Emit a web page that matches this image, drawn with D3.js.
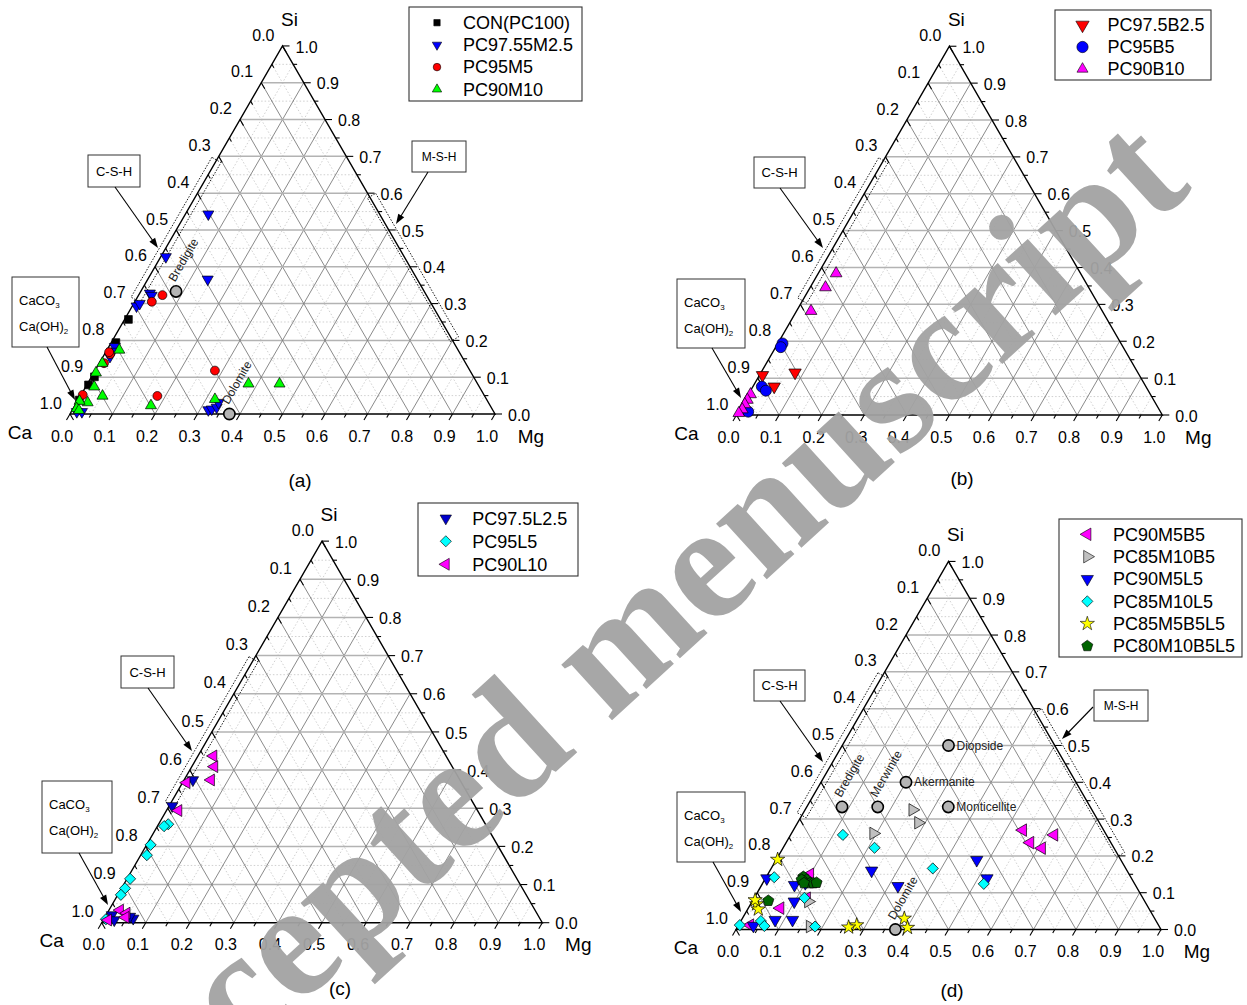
<!DOCTYPE html>
<html>
<head>
<meta charset="utf-8">
<script src="https://cdn.jsdelivr.net/npm/d3@7"></script>
<style>
  body { margin: 0; background: #fff; }
  text { font-family: Arial, "Liberation Sans", sans-serif; }
  text.watermark { font-family: "Liberation Serif", "Times New Roman", serif; font-weight: bold; }
</style>
</head>
<body>
<svg id="fig" width="1247" height="1005"></svg>
<script>
// Ternary compositions, each point given as [Si, Mg] atomic fractions (Ca = 1 - Si - Mg).

// (a) MgO series
const conPC100 = [[0.257,0.009],[0.194,0.011],[0.101,0.007],[0.079,0.004],[0.038,0.003]];
const pc9755M25 = [[0.543,0.054],[0.427,0.012],[0.366,0.141],[0.328,0.024],[0.322,0.031],[0.293,0.010],[0.300,0.014],
                   [0.183,0.014],[0.156,0.016],[0.170,0.014],[0.011,0.320],[0.013,0.327],[0.018,0.336],[0.031,0.334],
                   [0.006,0.013],[0.006,0.025]];
const pc95M5 = [[0.323,0.056],[0.305,0.040],[0.163,0.013],[0.138,0.011],[0.118,0.282],[0.049,0.181],[0.052,0.004],[0.168,0.008]];
const pc90M10 = [[0.174,0.029],[0.138,0.007],[0.112,0.005],[0.074,0.020],[0.049,0.052],[0.031,0.026],[0.023,0.179],
                 [0.040,0.321],[0.082,0.379],[0.082,0.452],[0.035,0.005],[0.015,0.008],[0.010,0.016]];

// (b) series B
const pc975B25 = [[0.115,0.080],[0.077,0.050],[0.108,0.007]];
const pc95B5 = [[0.194,0.011],[0.184,0.012],[0.077,0.021],[0.066,0.036],[0.009,0.023]];
const pc90B10 = [[0.384,0.042],[0.346,0.036],[0.282,0.034],[0.056,0.005],[0.041,0.005],[0.029,0.005],[0.015,0.006],[0.005,0.003]];

// (c) series L
const pc975L25 = [[0.374,0.020],[0.306,0.007],[0.020,0.013],[0.011,0.066],[0.016,0.056],[0.007,0.025]];
const pc95L5 = [[0.258,0.022],[0.253,0.015],[0.204,0.009],[0.177,0.014],[0.115,0.007],[0.090,0.008],[0.073,0.007],[0.009,0.005]];
const pc90L10 = [[0.437,0.035],[0.409,0.051],[0.374,0.061],[0.367,0.009],[0.294,0.027],[0.033,0.025],[0.025,0.044],[0.014,0.047],[0.007,0.011]];

// (d) combined series
const pc90M5B5 = [[0.270,0.540],[0.257,0.620],[0.236,0.574],[0.221,0.609],[0.150,0.099],[0.058,0.075],[0.085,0.124],[0.012,0.027]];
const pc85M10B5 = [[0.325,0.253],[0.290,0.284],[0.261,0.193],[0.076,0.132],[0.008,0.170]];
const pc90M5L5 = [[0.189,0.472],[0.139,0.521],[0.160,0.239],[0.118,0.322],[0.121,0.077],[0.126,0.100],[0.076,0.099],
                  [0.026,0.079],[0.026,0.120],[0.139,0.003],[0.010,0.036]];
const pc85M10L5 = [[0.257,0.123],[0.222,0.215],[0.166,0.380],[0.124,0.521],[0.142,0.019],[0.086,0.118],[0.023,0.047],
                   [0.0095,0.062],[0.008,0.182],[0.012,0.003]];
const pc85M5B5L5 = [[0.069,0.014],[0.055,0.025],[0.080,0.005],[0.012,0.278],[0.006,0.262],[0.030,0.381],[0.005,0.401],[0.190,0.003]];
const pc80M10B5L5 = [[0.078,0.037],[0.143,0.087],[0.135,0.099],[0.126,0.111],[0.126,0.119],[0.127,0.126],[0.135,0.087],[0.126,0.097]];

// Reference mineral phases [Si, Mg]
const phaseNamesA = ["Bredigite", "Dolomite"];
const phasesA = [[0.333,0.083],[0.0,0.375]];
const phaseNamesD = ["Diopside", "Akermanite", "Monticellite", "Merwinite", "Bredigite", "Dolomite"];
const phasesD = [[0.5,0.25],[0.4,0.2],[0.333,0.333],[0.333,0.167],[0.333,0.083],[0.0,0.375]];

// Axis ticks and labels
const majorTicks = [0,0.1,0.2,0.3,0.4,0.5,0.6,0.7,0.8,0.9,1.0];
const tickLabels = ["0.0","0.1","0.2","0.3","0.4","0.5","0.6","0.7","0.8","0.9","1.0"];
const minorTicks = [0.05,0.15,0.25,0.35,0.45,0.55,0.65,0.75,0.85,0.95];
const gridLevels = [0.1,0.2,0.3,0.4,0.5,0.6,0.7,0.8,0.9];

// ---------------------------------------------------------------------------
const svg = d3.select("#fig");

const symbolPentagon = {
  draw(ctx, size) {
    const r = Math.sqrt(size / 2.378);
    for (let i = 0; i < 5; i++) {
      const a = -Math.PI / 2 + i * 2 * Math.PI / 5;
      const x = r * Math.cos(a), y = r * Math.sin(a);
      if (i === 0) ctx.moveTo(x, y); else ctx.lineTo(x, y);
    }
    ctx.closePath();
  }
};

const markerTypes = {
  square:   { type: d3.symbolSquare, rot: 0, k: 1.0 },
  triUp:    { type: d3.symbolTriangle, rot: 0, k: 0.85 },
  triDown:  { type: d3.symbolTriangle, rot: 180, k: 0.85 },
  triLeft:  { type: d3.symbolTriangle, rot: -90, k: 0.85 },
  triRight: { type: d3.symbolTriangle, rot: 90, k: 0.85 },
  circle:   { type: d3.symbolCircle, rot: 0, k: 1.0 },
  diamond:  { type: d3.symbolSquare, rot: 45, k: 0.62 },
  star:     { type: d3.symbolStar, rot: 0, k: 0.9 },
  pentagon: { type: symbolPentagon, rot: 0, k: 0.95 }
};

function marker(g, shape, size, fill, x, y, sw) {
  const m = markerTypes[shape];
  g.append("path")
    .attr("d", d3.symbol().type(m.type).size(size * m.k)())
    .attr("transform", `translate(${x},${y}) rotate(${m.rot})`)
    .attr("fill", fill)
    .attr("stroke", "#000")
    .attr("stroke-width", sw === undefined ? 0.7 : sw);
}

function makePanel(geo) {
  const H = geo.W * Math.sqrt(3) / 2;
  const sx = d3.scaleLinear().domain([0, 1]).range([geo.x0, geo.x0 + geo.W]);
  const sy = d3.scaleLinear().domain([0, 1]).range([geo.yb, geo.yb - H]);
  // point from [Si, Mg]
  const P = (si, mg) => [sx(mg + si / 2), sy(si)];
  const g = svg.append("g");
  const line = (a, b) => d3.line()([a, b]);

  // minor grid
  const gMinor = g.append("g").attr("fill", "none").attr("stroke", "#c4c4c4")
    .attr("stroke-width", 0.8).attr("stroke-dasharray", "1.5,2");
  minorTicks.forEach(v => {
    gMinor.append("path").attr("d", line(P(v, 0), P(v, 1 - v)));
    gMinor.append("path").attr("d", line(P(0, v), P(1 - v, v)));
    gMinor.append("path").attr("d", line(P(1 - v, 0), P(0, 1 - v)));
  });
  // major grid
  const gMajor = g.append("g").attr("fill", "none");
  gridLevels.forEach(v => {
    gMajor.append("path").attr("d", line(P(v, 0), P(v, 1 - v))).attr("stroke", "#b3b3b3").attr("stroke-width", 1.5);
    gMajor.append("path").attr("d", line(P(0, v), P(1 - v, v))).attr("stroke", "#7d7d7d").attr("stroke-width", 0.9);
    gMajor.append("path").attr("d", line(P(1 - v, 0), P(0, 1 - v))).attr("stroke", "#7d7d7d").attr("stroke-width", 0.9);
  });
  // frame
  g.append("path").attr("d", d3.line()([P(0, 0), P(0, 1), P(1, 0)]) + "Z")
    .attr("fill", "none").attr("stroke", "#000").attr("stroke-width", 1.4);

  // ticks
  const gT = g.append("g").attr("stroke", "#000").attr("stroke-width", 1.1);
  const tick = (p, dx, dy, len) => gT.append("path").attr("d", line(p, [p[0] + dx * len, p[1] + dy * len]));
  const c60 = 0.5, s60 = Math.sqrt(3) / 2;
  const ticksAll = [...majorTicks.map(v => [v, 7]), ...minorTicks.map(v => [v, 4])];
  ticksAll.forEach(([v, len]) => {
    tick(P(0, v), -c60, s60, len);        // bottom: Mg fraction
    tick(P(v, 1 - v), 1, 0, len);          // right: Si fraction
    tick(P(1 - v, 0), c60, s60, len);      // left: Ca fraction
  });

  // tick labels
  const gL = g.append("g").attr("font-size", 16).attr("fill", "#000");
  majorTicks.forEach((v, i) => {
    const b = P(0, v);
    gL.append("text").attr("x", b[0] - 8).attr("y", b[1] + 22).attr("text-anchor", "middle")
      .attr("dy", "0.35em").text(tickLabels[i]);
    const r = P(v, 1 - v);
    gL.append("text").attr("x", r[0] + 13).attr("y", r[1] + 1).attr("dy", "0.35em").text(tickLabels[i]);
    const l = P(1 - v, 0);
    gL.append("text").attr("x", l[0] - 8).attr("y", l[1] - 11).attr("text-anchor", "end")
      .attr("dy", "0.35em").text(tickLabels[i]);
  });
  // corner titles
  const gC = g.append("g").attr("font-size", 19);
  const apex = P(1, 0), ca = P(0, 0), mgc = P(0, 1);
  gC.append("text").attr("x", apex[0] + 7).attr("y", apex[1] - 27).attr("text-anchor", "middle").attr("dy", "0.35em").text("Si");
  gC.append("text").attr("x", ca[0] - 50).attr("y", ca[1] + 18).attr("text-anchor", "middle").attr("dy", "0.35em").text("Ca");
  gC.append("text").attr("x", mgc[0] + 36).attr("y", mgc[1] + 22).attr("text-anchor", "middle").attr("dy", "0.35em").text("Mg");

  return { g, P, H };
}

// Dotted band along an edge between two points, offsets along the outward normal
function band(pn, p1, p2, nx, ny, dOut, dIn) {
  const pts = [
    [p1[0] + nx * dOut, p1[1] + ny * dOut], [p2[0] + nx * dOut, p2[1] + ny * dOut],
    [p2[0] - nx * dIn, p2[1] - ny * dIn], [p1[0] - nx * dIn, p1[1] - ny * dIn]
  ];
  pn.g.append("path").attr("d", d3.line()(pts) + "Z").attr("fill", "none")
    .attr("stroke", "#000").attr("stroke-width", 0.9).attr("stroke-dasharray", "1.5,1.5");
}
function cshBand(pn) {
  band(pn, pn.P(0.69, 0), pn.P(0.31, 0), -Math.sqrt(3) / 2, -0.5, 5.5, 5);
}
function mshBand(pn) {
  band(pn, pn.P(0.59, 0.41), pn.P(0.2, 0.8), Math.sqrt(3) / 2, -0.5, 7, 2.5);
}

function arrow(x1, y1, x2, y2) {
  const a = Math.atan2(y2 - y1, x2 - x1), L = 10, w = 3.5;
  svg.append("path").attr("d", d3.line()([[x1, y1], [x2 - L * 0.8 * Math.cos(a), y2 - L * 0.8 * Math.sin(a)]]))
    .attr("stroke", "#000").attr("stroke-width", 1.1);
  const bx = x2 - L * Math.cos(a), by = y2 - L * Math.sin(a);
  svg.append("path").attr("d", d3.line()([[x2, y2],
    [bx - w * Math.sin(a), by + w * Math.cos(a)], [bx + w * Math.sin(a), by - w * Math.cos(a)]]) + "Z")
    .attr("fill", "#000");
}
function labelBox(x, y, w, h, txt, fs) {
  svg.append("rect").attr("x", x).attr("y", y).attr("width", w).attr("height", h)
    .attr("fill", "#fff").attr("stroke", "#333").attr("stroke-width", 1);
  svg.append("text").attr("x", x + w / 2).attr("y", y + h / 2).attr("dy", "0.35em")
    .attr("text-anchor", "middle").attr("font-size", fs).text(txt);
}
function carbBox(x, y, w, h) {
  svg.append("rect").attr("x", x).attr("y", y).attr("width", w).attr("height", h)
    .attr("fill", "#fff").attr("stroke", "#333").attr("stroke-width", 1);
  const t1 = svg.append("text").attr("x", x + 7).attr("y", y + 28).attr("font-size", 13);
  t1.append("tspan").text("CaCO");
  t1.append("tspan").attr("font-size", 8).attr("dy", 3).text("3");
  const t2 = svg.append("text").attr("x", x + 7).attr("y", y + 54).attr("font-size", 13);
  t2.append("tspan").text("Ca(OH)");
  t2.append("tspan").attr("font-size", 8).attr("dy", 3).text("2");
}

function series(pn, data, shape, size, fill) {
  const gs = pn.g.append("g");
  data.forEach(([si, mg]) => { const p = pn.P(si, mg); marker(gs, shape, size, fill, p[0], p[1]); });
}
function phases(pn, names, data, size, rotated) {
  const gp = pn.g.append("g");
  data.forEach(([si, mg], i) => {
    const p = pn.P(si, mg);
    gp.append("circle").attr("cx", p[0]).attr("cy", p[1]).attr("r", Math.sqrt(size / Math.PI))
      .attr("fill", "#b4b4b4").attr("stroke", "#000").attr("stroke-width", 1.6);
    if (rotated.includes(names[i])) {
      gp.append("text").attr("transform", `translate(${p[0] - 1},${p[1] - 9}) rotate(-60)`)
        .attr("font-size", 12).attr("fill", "#222").text(names[i]);
    } else {
      gp.append("text").attr("x", p[0] + 8).attr("y", p[1]).attr("dy", "0.35em")
        .attr("font-size", 12).attr("fill", "#222").text(names[i]);
    }
  });
}
function legend(box, rows, items) {
  svg.append("rect").attr("x", box[0]).attr("y", box[1]).attr("width", box[2]).attr("height", box[3])
    .attr("fill", "#fff").attr("stroke", "#333").attr("stroke-width", 1.1);
  items.forEach((it, i) => {
    marker(svg, it.shape, it.size, it.fill, rows.sx, rows.y0 + i * rows.dy, 0.6);
    svg.append("text").attr("x", rows.tx).attr("y", rows.y0 + i * rows.dy).attr("dy", "0.35em")
      .attr("font-size", 18).text(it.name);
  });
}

// ---------------------------------------------------------------------------
// Panel (a)
const pa = makePanel({ x0: 70, yb: 414, W: 425 });
cshBand(pa); mshBand(pa);
series(pa, conPC100, "square", 60, "#000");
series(pa, pc9755M25, "triDown", 62, "#0000ff");
series(pa, pc95M5, "circle", 62, "#ff0000");
series(pa, pc90M10, "triUp", 62, "#00ff00");
phases(pa, phaseNamesA, phasesA, 100, ["Bredigite", "Dolomite"]);

// Panel (b)
const pb = makePanel({ x0: 736.5, yb: 415, W: 425.8 });
cshBand(pb);
series(pb, pc975B25, "triDown", 78, "#ff0000");
series(pb, pc95B5, "circle", 95, "#0000ff");
series(pb, pc90B10, "triUp", 70, "#ff00ff");

// Panel (c)
const pc = makePanel({ x0: 101.7, yb: 922.7, W: 440.6 });
cshBand(pc);
series(pc, pc975L25, "triDown", 66, "#0000cc");
series(pc, pc95L5, "diamond", 100, "#00ffff");
series(pc, pc90L10, "triLeft", 72, "#ff00ff");

// Panel (d)
const pd = makePanel({ x0: 736, yb: 929.5, W: 425 });
cshBand(pd); mshBand(pd);
series(pd, pc90M5B5, "triLeft", 80, "#ff00ff");
series(pd, pc85M10B5, "triRight", 80, "#c0c0c0");
series(pd, pc90M5L5, "triDown", 76, "#0000ff");
series(pd, pc85M10L5, "diamond", 100, "#00ffff");
series(pd, pc85M5B5L5, "star", 70, "#ffff00");
series(pd, pc80M10B5L5, "pentagon", 85, "#006400");
phases(pd, phaseNamesD, phasesD, 100, ["Merwinite", "Bredigite", "Dolomite"]);

// Annotation boxes and arrows
labelBox(88, 155, 52, 32, "C-S-H", 13); arrow(115, 187, 158, 248);
carbBox(12, 277, 67, 70); arrow(47, 347, 75, 400);
labelBox(412, 141, 54, 31, "M-S-H", 12); arrow(428, 172, 396, 224);

labelBox(754, 157, 51, 31, "C-S-H", 13); arrow(780, 188, 823, 248);
carbBox(677, 279, 68, 69); arrow(712, 348, 741, 398);

labelBox(121, 656, 53, 32, "C-S-H", 13); arrow(148, 688, 192, 751);
carbBox(42, 781, 70, 72); arrow(79, 853, 108, 905);

labelBox(754, 670, 51, 31, "C-S-H", 13); arrow(780, 701, 823, 762);
carbBox(677, 792, 68, 70); arrow(713, 862, 741, 912);
labelBox(1094, 690, 54, 31, "M-S-H", 12); arrow(1093, 707, 1062, 739);

// Legends
legend([409, 7, 173, 94], { sx: 437, tx: 463, y0: 22.7, dy: 22.2 }, [
  { shape: "square", size: 40, fill: "#000", name: "CON(PC100)" },
  { shape: "triDown", size: 45, fill: "#0000ff", name: "PC97.55M2.5" },
  { shape: "circle", size: 45, fill: "#ff0000", name: "PC95M5" },
  { shape: "triUp", size: 45, fill: "#00ff00", name: "PC90M10" }
]);
legend([1055, 10, 156, 70], { sx: 1082.5, tx: 1107.5, y0: 25, dy: 22 }, [
  { shape: "triDown", size: 90, fill: "#ff0000", name: "PC97.5B2.5" },
  { shape: "circle", size: 100, fill: "#0000ff", name: "PC95B5" },
  { shape: "triUp", size: 62, fill: "#ff00ff", name: "PC90B10" }
]);
legend([418, 503, 160, 73], { sx: 445.8, tx: 472.3, y0: 518.3, dy: 23 }, [
  { shape: "triDown", size: 66, fill: "#0000cc", name: "PC97.5L2.5" },
  { shape: "diamond", size: 100, fill: "#00ffff", name: "PC95L5" },
  { shape: "triLeft", size: 72, fill: "#ff00ff", name: "PC90L10" }
]);
legend([1059, 519, 183, 138], { sx: 1087.3, tx: 1113, y0: 534.3, dy: 22.35 }, [
  { shape: "triLeft", size: 80, fill: "#ff00ff", name: "PC90M5B5" },
  { shape: "triRight", size: 80, fill: "#c0c0c0", name: "PC85M10B5" },
  { shape: "triDown", size: 76, fill: "#0000ff", name: "PC90M5L5" },
  { shape: "diamond", size: 100, fill: "#00ffff", name: "PC85M10L5" },
  { shape: "star", size: 70, fill: "#ffff00", name: "PC85M5B5L5" },
  { shape: "pentagon", size: 85, fill: "#006400", name: "PC80M10B5L5" }
]);

// Panel captions
[["(a)", 300, 480], ["(b)", 962, 478], ["(c)", 340, 988], ["(d)", 952, 990]].forEach(([t, x, y]) => {
  svg.append("text").attr("x", x).attr("y", y).attr("dy", "0.35em").attr("text-anchor", "middle")
    .attr("font-size", 19).text(t);
});

// Watermark
svg.append("text")
  .attr("class", "watermark")
  .attr("transform", "translate(101,1187) rotate(-42.4)")
  .attr("font-size", 164)
  .attr("fill", "#a3a3a3")
  .attr("opacity", 0.95)
  .text("Accepted menuscript");
</script>
</body>
</html>
